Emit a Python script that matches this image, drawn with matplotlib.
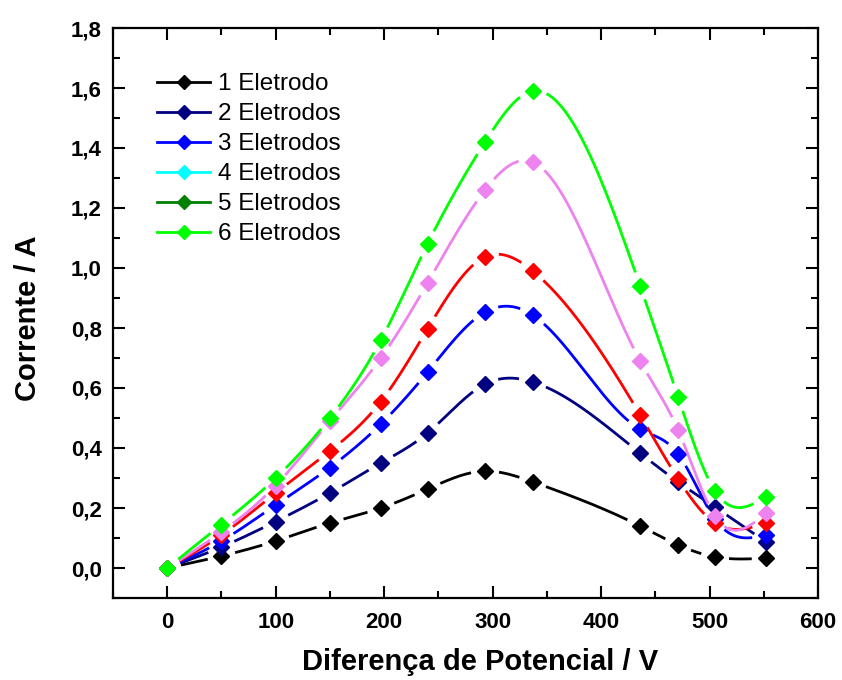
import numpy as np
import matplotlib
matplotlib.use("Agg")
import matplotlib.pyplot as plt
from matplotlib.lines import Line2D
from matplotlib.ticker import MultipleLocator, FuncFormatter

plt.rcParams["font.family"] = ["Liberation Sans", "DejaVu Sans"]

# data
voltage = [0, 50, 100, 150, 197, 240, 293, 337, 436, 471, 505, 552]
current_1 = [0.0, 0.04, 0.09, 0.15, 0.20, 0.263, 0.323, 0.287, 0.14, 0.077, 0.037, 0.033]
current_2 = [0.0, 0.07, 0.155, 0.25, 0.35, 0.45, 0.613, 0.62, 0.383, 0.287, 0.203, 0.087]
current_3 = [0.0, 0.09, 0.21, 0.335, 0.48, 0.653, 0.853, 0.843, 0.463, 0.38, 0.163, 0.11]
current_4 = [0.0, 0.11, 0.25, 0.39, 0.555, 0.797, 1.037, 0.99, 0.51, 0.297, 0.15, 0.15]
current_5 = [0.0, 0.12, 0.275, 0.49, 0.70, 0.95, 1.26, 1.353, 0.69, 0.46, 0.173, 0.183]
current_6 = [0.0, 0.145, 0.30, 0.50, 0.76, 1.08, 1.42, 1.59, 0.94, 0.57, 0.257, 0.237]

labels = ["1 Eletrodo", "2 Eletrodos", "3 Eletrodos", "4 Eletrodos", "5 Eletrodos", "6 Eletrodos"]
curve_colors = ["#000000", "#000080", "#0000FF", "#FF0000", "#EE82EE", "#00FF00"]
legend_colors = ["#000000", "#000080", "#0000FF", "#00FFFF", "#008000", "#00FF00"]
series = [current_1, current_2, current_3, current_4, current_5, current_6]


def spline(x, y, xs):
    # natural cubic spline through the points (Origin "Spline" connection)
    x = np.asarray(x, float)
    y = np.asarray(y, float)
    n = len(x)
    h = np.diff(x)
    A = np.zeros((n, n))
    b = np.zeros(n)
    A[0, 0] = A[-1, -1] = 1.0
    for i in range(1, n - 1):
        A[i, i - 1] = h[i - 1]
        A[i, i] = 2 * (h[i - 1] + h[i])
        A[i, i + 1] = h[i]
        b[i] = 6 * ((y[i + 1] - y[i]) / h[i] - (y[i] - y[i - 1]) / h[i - 1])
    M = np.linalg.solve(A, b)
    idx = np.clip(np.searchsorted(x, xs) - 1, 0, n - 2)
    x0, x1 = x[idx], x[idx + 1]
    hh = x1 - x0
    t0, t1 = x1 - xs, xs - x0
    return (M[idx] * t0**3 / (6 * hh) + M[idx + 1] * t1**3 / (6 * hh)
            + (y[idx] / hh - M[idx] * hh / 6) * t0
            + (y[idx + 1] / hh - M[idx + 1] * hh / 6) * t1)


fig = plt.figure(figsize=(8.42, 6.8), dpi=100)
ax = fig.add_axes([113 / 842, 1 - 598 / 680, 705 / 842, 570 / 680])
ax.set_xlim(-50, 600)
ax.set_ylim(-0.1, 1.8)

xs = np.linspace(voltage[0], voltage[-1], 3000)
gap = 14  # pixels of line left out around each symbol
for k, (vals, col) in enumerate(zip(series, curve_colors)):
    ys = spline(voltage, vals, xs)
    curve_px = ax.transData.transform(np.column_stack([xs, ys]))
    pts_px = ax.transData.transform(np.column_stack([voltage, vals]))
    d = np.min(np.hypot(curve_px[:, None, 0] - pts_px[None, :, 0],
                        curve_px[:, None, 1] - pts_px[None, :, 1]), axis=1)
    ys_gap = np.where(d < gap, np.nan, ys)
    ax.plot(xs, ys_gap, color=col, lw=2.0, solid_capstyle="butt", zorder=2 + k)
    ax.plot(voltage, vals, ls="none", marker="D", ms=8, color=col,
            mec=col, zorder=2 + k)

ax.xaxis.set_major_locator(MultipleLocator(100))
ax.xaxis.set_minor_locator(MultipleLocator(50))
ax.yaxis.set_major_locator(MultipleLocator(0.2))
ax.yaxis.set_minor_locator(MultipleLocator(0.1))
ax.yaxis.set_major_formatter(FuncFormatter(lambda v, p: f"{v:.1f}".replace(".", ",")))
ax.xaxis.set_major_formatter(FuncFormatter(lambda v, p: f"{v:.0f}"))

ax.tick_params(which="both", direction="in", top=True, right=True, width=1.5)
ax.tick_params(which="major", length=8.5)
ax.tick_params(which="minor", length=5)
ax.tick_params(axis="x", pad=10)
ax.tick_params(axis="y", pad=8)
for lab in ax.get_xticklabels() + ax.get_yticklabels():
    lab.set_fontsize(16)
    lab.set_fontweight("bold")
for sp in ax.spines.values():
    sp.set_linewidth(1.6)

ax.set_xlabel("Diferença de Potencial / V", fontsize=21, fontweight="bold")
ax.set_ylabel("Corrente / A", fontsize=21, fontweight="bold")
ax.xaxis.set_label_coords(0.52, -0.087)
ax.yaxis.set_label_coords(-0.1, 0.49)

handles = [Line2D([], [], color=c, lw=2.0, marker="D", ms=7.5, mec=c) for c in legend_colors]
ax.legend(handles, labels, loc="upper left", bbox_to_anchor=(157 / 842, 1 - 73 / 680),
          bbox_transform=fig.transFigure, frameon=False, fontsize=17.5,
          handlelength=2.2, handletextpad=0.3, labelspacing=0.33,
          borderpad=0, borderaxespad=0)

fig.savefig("out.png", dpi=100)
